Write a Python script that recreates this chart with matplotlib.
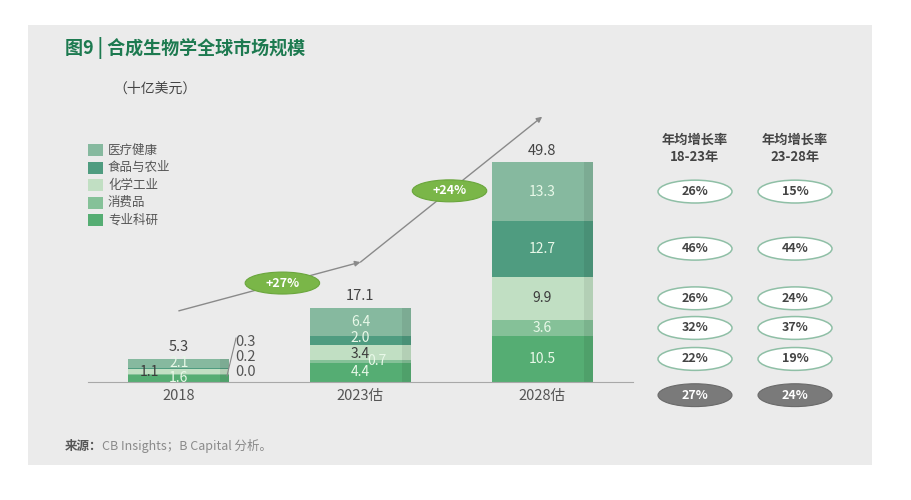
import matplotlib
matplotlib.use("Agg")
import matplotlib.pyplot as plt
from matplotlib.patches import Rectangle, Ellipse
import numpy as np

plt.rcParams["font.family"] = ["Noto Sans CJK SC", "DejaVu Sans"]

# data (stack order bottom -> top)
years = ["2018", "2023估", "2028估"]
segments = ["专业科研", "消费品", "化学工业", "食品与农业", "医疗健康"]
research = [1.6, 4.4, 10.5]
consumer = [0.2, 0.7, 3.6]
chemical = [1.1, 3.4, 9.9]
food = [0.3, 2.0, 12.7]
health = [2.1, 6.4, 13.3]
totals = [5.3, 17.1, 49.8]
side_2018 = ["0.3", "0.2", "0.0"]
cagr_18_23 = [22, 32, 26, 46, 26]
cagr_23_28 = [19, 37, 24, 44, 15]
cagr_total = [27, 24]
trend = [16.2, 27.3, 60.4]

colors = ["#55ad73", "#85c198", "#c1dfc3", "#4f9c80", "#86b99f"]
light_txt = "#e8f8e8"
dark_txt = "#3c3c3c"
W, H = 912, 500

fig = plt.figure(figsize=(W / 100, H / 100), dpi=100)
fig.patch.set_facecolor("white")

# background panel, title, legend, source
bg = fig.add_axes([0, 0, 1, 1], zorder=0)
bg.set_xlim(0, W)
bg.set_ylim(H, 0)
bg.axis("off")
bg.add_patch(Rectangle((28, 25), 844, 440, color="#ebebeb", lw=0))
bg.text(65, 48, "图9 | 合成生物学全球市场规模", fontsize=13, fontweight="bold",
        color="#1d7a50", va="center", ha="left")
bg.text(113, 89, "（十亿美元）", fontsize=10, color="#444444", va="center", ha="left")

for k, name in enumerate(segments[::-1]):
    y = 150 + k * 17.5
    bg.add_patch(Rectangle((88, y - 6), 15, 12, color=colors[::-1][k], lw=0))
    bg.text(108, y, name, fontsize=9, color="#555555", va="center", ha="left")

t1 = bg.text(65, 446, "来源：", fontsize=9, fontweight="bold", color="#555555",
             va="center", ha="left")
bg.annotate("CB Insights；B Capital 分析。", xycoords=t1, xy=(1, 0.5),
            va="center", ha="left", fontsize=9, color="#8a8a8a")

# bars
ax = fig.add_axes([88 / W, 1 - 382 / H, 545 / W, 282 / H], zorder=2)
ax.patch.set_alpha(0)
ax.set_xlim(-0.5, 2.5)
ax.set_ylim(0, 64.2)
for s in ["top", "right", "left"]:
    ax.spines[s].set_visible(False)
ax.spines["bottom"].set_color("#a8a8a8")
ax.set_yticks([])
x = np.arange(len(years))
ax.set_xticks(x, years)
ax.tick_params(axis="x", length=0, pad=5, labelsize=10.5, labelcolor="#555555")

series = [research, consumer, chemical, food, health]
bw = 0.556
sw = 0.05
bottom = np.zeros(len(years))
mids = []
for k, vals in enumerate(series):
    vals = np.array(vals)
    ax.bar(x, vals, bw, bottom=bottom, color=colors[k], lw=0)
    ax.bar(x + bw / 2 - sw, vals, sw, bottom=bottom, align="edge", color="black",
           alpha=0.07, lw=0)
    mids.append(bottom + vals / 2)
    for i in range(len(years)):
        if i == 0 and segments[k] in ("消费品", "食品与农业"):
            continue
        dx, dy = 0.0, 0.0
        if i == 0 and segments[k] == "化学工业":
            dx = -0.16
        if i == 1 and segments[k] == "消费品":
            dx = 0.09
        if i == 1 and segments[k] == "化学工业":
            dy = -0.35
        if i == 1 and segments[k] == "食品与农业":
            dy = 0.45
        c = dark_txt if segments[k] == "化学工业" else light_txt
        ax.text(x[i] + dx, bottom[i] + vals[i] / 2 + dy, f"{vals[i]:.1f}",
                ha="center", va="center", fontsize=10, color=c)
    bottom = bottom + vals

for i, t in enumerate(totals):
    ax.text(x[i], bottom[i] + 1.0, f"{t:.1f}", ha="center", va="bottom",
            fontsize=10.5, color="#444444")

# small 2018 values placed at the side
for k, s in enumerate(side_2018):
    ax.text(0.31, 9.1 - k * 3.4, s, ha="left", va="center", fontsize=10.5,
            color="#555555")
ax.plot([0.315, 0.265], [10.0, 1.4], color="#888888", lw=0.8)

# trend arrows with growth bubbles
arrow = dict(arrowstyle="-|>", color="#8a8a8a", lw=1, mutation_scale=8,
             shrinkA=0, shrinkB=0)
frac = [0.57, 0.49]
for i in range(2):
    ax.annotate("", xy=(x[i + 1], trend[i + 1]), xytext=(x[i], trend[i]),
                arrowprops=arrow)
    bx = x[i] + frac[i] * (x[i + 1] - x[i])
    by = trend[i] + frac[i] * (trend[i + 1] - trend[i])
    ax.add_patch(Ellipse((bx, by), 0.41, 5.0, facecolor="#7ab648",
                         edgecolor="#6aa63c", lw=0.8, zorder=5))
    ax.text(bx, by, f"+{cagr_total[i]}%", ha="center", va="center", fontsize=9,
            fontweight="bold", color="white", zorder=6)

# CAGR table aligned to 2028 segments
tab = fig.add_axes([640 / W, 1 - 382 / H, 232 / W, 282 / H], zorder=2)
tab.patch.set_alpha(0)
tab.set_xlim(640, 872)
tab.set_ylim(0, 64.2)
tab.axis("off")
cols = [695, 795]
heads = ["年均增长率\n18-23年", "年均增长率\n23-28年"]
for c, h in zip(cols, heads):
    tab.text(c, 53.2, h, ha="center", va="center", fontsize=9.5,
             fontweight="bold", color="#444444", linespacing=1.25)
for col, rates in zip(cols, [cagr_18_23, cagr_23_28]):
    for k, r in enumerate(rates):
        y = mids[k][2]
        tab.add_patch(Ellipse((col, y), 74, 5.2, facecolor="white",
                              edgecolor="#8fbfa6", lw=1.1, clip_on=False))
        tab.text(col, y, f"{r}%", ha="center", va="center", fontsize=9,
                 fontweight="bold", color="#444444")
for col, r in zip(cols, cagr_total):
    tab.add_patch(Ellipse((col, -3.0), 74, 5.2, facecolor="#7a7a7a",
                          edgecolor="#6a6a6a", lw=0.8, clip_on=False))
    tab.text(col, -3.0, f"{r}%", ha="center", va="center", fontsize=9,
             fontweight="bold", color="white")

fig.savefig("out.png", dpi=100)
